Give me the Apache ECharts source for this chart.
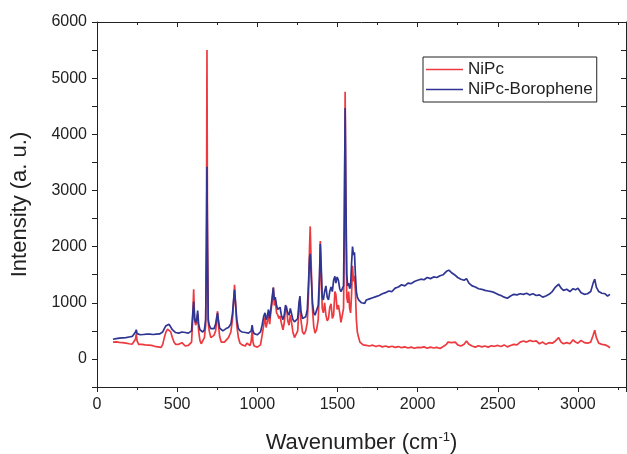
<!doctype html>
<html lang="en">
<head>
    <meta charset="UTF-8">
    <script src="https://cdn.jsdelivr.net/npm/echarts@6/dist/echarts.min.js"></script>
    <title>NiPc Raman</title>
    <style>html,body{margin:0;padding:0;background:#fff;}</style>
</head>
<body>
<div id="main" style="width: 627px;height:454px;"></div>
<script>
    // wavenumbers (cm-1) and intensities
    var nipcX = [100,110,120,130,140,150,160,170,180,190,200,210,220,230,240,245,250,260,270,280,290,300,310,320,330,340,350,360,370,380,390,400,410,420,430,440,450,460,470,480,490,500,510,520,530,540,550,560,570,580,590,597,603,609,615,622,628,634,642,650,660,670,678,683,686,689,694,700,710,720,730,740,747,752,758,765,775,785,795,805,820,835,845,852,858,864,872,882,892,905,915,925,935,945,955,962,968,973,980,990,1000,1010,1020,1030,1040,1048,1055,1062,1070,1077,1085,1092,1100,1106,1112,1120,1128,1135,1142,1150,1160,1168,1176,1182,1190,1198,1206,1214,1222,1232,1242,1252,1260,1266,1272,1282,1292,1302,1312,1320,1326,1330,1336,1344,1352,1360,1370,1380,1388,1393,1398,1405,1412,1420,1428,1436,1444,1452,1460,1468,1476,1484,1490,1498,1506,1514,1522,1530,1538,1543,1548,1553,1558,1564,1570,1576,1582,1588,1594,1600,1606,1612,1618,1624,1632,1640,1650,1660,1670,1680,1690,1700,1720,1740,1760,1780,1800,1820,1840,1860,1880,1900,1920,1940,1960,1980,2000,2020,2040,2060,2080,2100,2120,2140,2160,2180,2190,2200,2210,2220,2235,2250,2270,2290,2305,2320,2340,2360,2380,2400,2420,2440,2460,2480,2500,2520,2540,2560,2580,2600,2620,2640,2660,2680,2700,2720,2740,2760,2780,2800,2820,2840,2860,2880,2895,2910,2930,2950,2970,2985,3000,3020,3040,3060,3080,3095,3105,3115,3130,3150,3170,3185,3200];
    var nipcY = [300,290,305,285,295,280,290,270,280,265,270,255,265,280,350,450,320,260,250,260,240,250,235,245,230,240,220,225,205,215,195,205,260,380,480,530,520,480,380,300,260,240,260,250,290,260,230,220,240,220,300,700,1240,700,600,650,800,500,330,270,280,380,600,2500,5500,2500,650,500,380,350,420,500,700,850,600,400,300,270,300,330,380,480,700,1000,1320,1000,600,380,280,250,260,230,280,260,240,320,520,300,230,200,210,190,250,420,600,740,560,650,820,620,850,1000,1270,950,1050,820,780,720,760,640,520,640,900,940,680,600,780,640,480,380,360,500,900,1080,700,480,440,500,650,1200,2000,2360,1700,900,580,460,520,700,1300,2100,1600,900,820,1000,780,680,720,920,980,720,780,1200,1150,880,960,820,650,620,900,2200,4760,2500,1100,1000,1200,900,820,1150,1660,1380,1480,1200,700,480,380,300,280,250,270,240,250,230,245,220,240,215,230,210,225,205,220,200,215,195,210,190,205,200,215,190,210,195,205,185,220,260,300,270,290,260,300,250,230,260,320,260,230,210,235,215,230,210,235,225,240,220,250,215,240,260,250,300,320,300,330,310,320,270,300,260,290,280,320,380,300,270,290,270,340,300,280,330,290,280,300,420,510,380,280,260,250,230,200];

    var boroX = [100,110,120,130,140,150,160,170,180,190,200,210,220,230,240,245,250,260,270,280,290,300,310,320,330,340,350,360,370,380,390,400,410,420,430,440,450,460,470,480,490,500,510,520,530,540,550,560,570,580,590,597,603,609,615,622,628,634,642,650,660,670,678,683,686,689,694,700,710,720,730,740,747,752,758,765,775,785,795,805,820,835,845,852,858,864,872,882,892,905,915,925,935,945,955,962,968,973,980,990,1000,1010,1020,1030,1040,1048,1055,1062,1070,1077,1085,1092,1100,1106,1112,1120,1128,1135,1142,1150,1160,1168,1176,1182,1190,1198,1206,1214,1222,1232,1242,1252,1260,1266,1272,1282,1292,1302,1312,1320,1326,1330,1336,1344,1352,1360,1370,1380,1388,1393,1398,1405,1412,1420,1428,1436,1444,1452,1460,1468,1476,1484,1490,1498,1506,1514,1522,1530,1538,1543,1548,1553,1558,1564,1570,1576,1582,1588,1594,1600,1606,1612,1618,1624,1632,1640,1650,1660,1670,1680,1690,1700,1720,1740,1760,1780,1800,1820,1840,1860,1880,1900,1920,1940,1960,1980,2000,2020,2040,2060,2080,2100,2120,2140,2160,2180,2195,2210,2230,2250,2270,2290,2305,2320,2340,2360,2380,2400,2420,2440,2460,2480,2500,2520,2540,2560,2580,2600,2620,2640,2660,2680,2700,2720,2740,2760,2780,2800,2820,2840,2860,2880,2895,2910,2930,2950,2970,2985,3000,3020,3040,3060,3080,3095,3105,3115,3130,3150,3170,3185,3200];
    var boroY = [350,370,360,380,370,385,375,390,380,395,390,410,400,430,480,520,450,420,430,410,435,420,440,425,440,420,435,425,440,430,445,450,480,540,590,620,615,580,520,490,470,480,460,470,480,455,470,450,460,440,500,800,1020,720,650,700,860,620,520,500,480,520,700,2000,3420,2000,700,600,540,510,540,620,750,820,680,550,520,500,520,540,560,620,800,1050,1230,1000,700,540,500,480,490,470,480,460,450,500,600,500,450,440,430,440,480,600,760,820,700,760,880,720,900,1080,1270,1050,1100,950,880,860,920,780,700,780,960,980,820,780,900,800,700,660,640,720,1000,1120,850,720,700,750,880,1400,1800,1870,1500,1000,820,780,800,950,1500,2050,1700,1100,1050,1200,1300,1100,1050,1200,1280,1200,1400,1470,1350,1460,1400,1250,1200,1180,1300,2600,4470,2800,1500,1300,1350,1250,1300,1700,2000,1850,1900,1500,1200,1100,1050,1020,1000,1030,990,1050,1030,1070,1090,1110,1130,1160,1180,1210,1200,1260,1280,1320,1300,1350,1340,1380,1400,1420,1410,1450,1430,1460,1450,1480,1500,1560,1580,1540,1500,1450,1420,1400,1430,1350,1300,1280,1250,1240,1220,1210,1200,1180,1150,1130,1100,1080,1120,1150,1140,1160,1150,1170,1140,1160,1130,1140,1100,1120,1150,1200,1280,1330,1260,1220,1240,1200,1250,1230,1260,1180,1150,1160,1200,1350,1420,1280,1200,1170,1160,1120,1150];

    var xTicks = [0, 500, 1000, 1500, 2000, 2500, 3000];
    var yTicks = [0, 1000, 2000, 3000, 4000, 5000, 6000];

    function pairs(xs, ys) {
        var out = [];
        for (var i = 0; i < xs.length; i++) out.push([xs[i], ys[i]]);
        return out;
    }

    var myChart = echarts.init(document.getElementById('main'));
    var axisCol = '#222';
    var font = 'Liberation Sans, Arial, sans-serif';

    var option = {
        backgroundColor: '#fff',
        animation: false,
        legend: {
            orient: 'vertical',
            left: 423,
            top: 57,
            icon: 'rect',
            itemWidth: 37,
            itemHeight: 1.5,
            itemGap: 3,
            padding: [4, 4, 4, 3],
            borderColor: '#222',
            borderWidth: 1,
            borderRadius: 0,
            textStyle: {fontFamily: font, fontSize: 17, color: '#222', lineHeight: 17},
            data: ['NiPc', 'NiPc-Borophene']
        },
        grid: {left: 97, right: 1, top: 22, bottom: 67, outerBoundsMode: 'none', containLabel: false},
        xAxis: [
            {
                type: 'value',
                min: 0,
                max: 3300,
                interval: 500,
                name: 'Wavenumber (cm{sup|-1})',
                nameLocation: 'middle',
                nameGap: 44,
                nameTextStyle: {
                    fontFamily: font, fontSize: 22, color: axisCol,
                    rich: {sup: {fontFamily: font, fontSize: 13, color: axisCol, verticalAlign: 'top', padding: [0, 0, 10, 0]}}
                },
                axisLine: {show: true, onZero: false, lineStyle: {color: axisCol, width: 1}},
                axisTick: {show: true, inside: false, length: 5, lineStyle: {color: axisCol}},
                minorTick: {show: true, splitNumber: 2, length: 3, lineStyle: {color: axisCol}},
                axisLabel: {
                    fontFamily: font, fontSize: 16, color: axisCol, margin: 10,
                    showMaxLabel: false,
                    formatter: function (v) { return xTicks.indexOf(v) >= 0 ? String(v) : ''; }
                },
                splitLine: {show: false}
            },
            {
                type: 'value',
                position: 'top',
                min: 0,
                max: 3300,
                interval: 500,
                axisLine: {show: true, onZero: false, lineStyle: {color: axisCol, width: 1}},
                axisTick: {show: true, inside: true, length: 5, lineStyle: {color: axisCol}},
                minorTick: {show: true, splitNumber: 2, length: 3, lineStyle: {color: axisCol}},
                axisLabel: {show: false},
                splitLine: {show: false}
            }
        ],
        yAxis: [
            {
                type: 'value',
                min: -500,
                max: 6000,
                interval: 500,
                name: 'Intensity (a. u.)',
                nameLocation: 'middle',
                nameGap: 66,
                nameTextStyle: {fontFamily: font, fontSize: 22, color: axisCol},
                axisLine: {show: true, onZero: false, lineStyle: {color: axisCol, width: 1}},
                axisTick: {show: true, inside: false, length: 5, lineStyle: {color: axisCol}},
                axisLabel: {
                    fontFamily: font, fontSize: 16, color: axisCol, margin: 10,
                    formatter: function (v) { return yTicks.indexOf(v) >= 0 ? String(v) : ''; }
                },
                splitLine: {show: false}
            },
            {
                type: 'value',
                position: 'right',
                min: -500,
                max: 6000,
                interval: 500,
                axisLine: {show: true, onZero: false, lineStyle: {color: axisCol, width: 1}},
                axisTick: {show: true, inside: true, length: 5, lineStyle: {color: axisCol}},
                axisLabel: {show: false},
                splitLine: {show: false}
            }
        ],
        series: [
            {
                name: 'NiPc',
                type: 'line',
                symbol: 'none',
                color: '#ec3a3f',
                lineStyle: {width: 1.7},
                data: pairs(nipcX, nipcY)
            },
            {
                name: 'NiPc-Borophene',
                type: 'line',
                symbol: 'none',
                color: '#2f3592',
                lineStyle: {width: 1.7},
                data: pairs(boroX, boroY)
            }
        ]
    };

    myChart.setOption(option);
</script>
</body>
</html>
